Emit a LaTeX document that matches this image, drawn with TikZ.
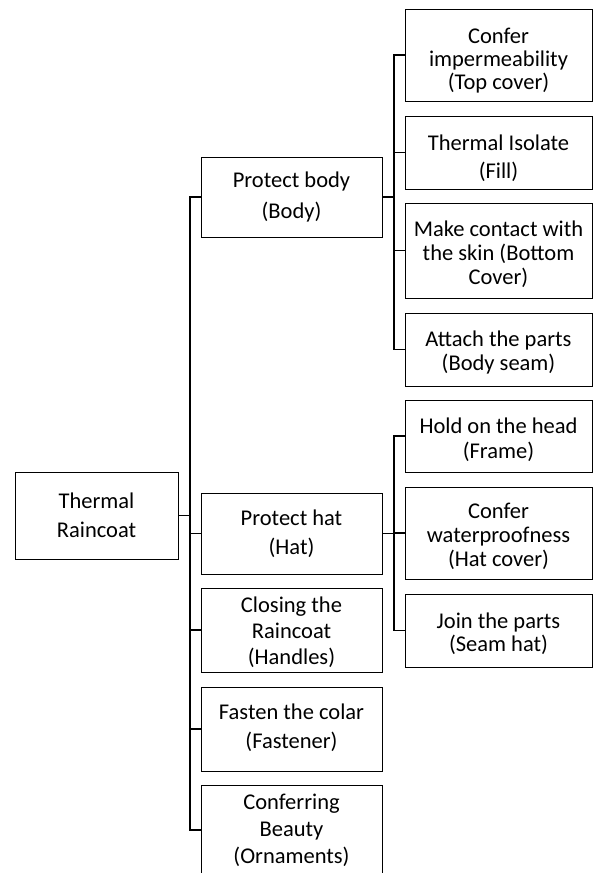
\documentclass[tikz,border=0pt]{standalone}
\usepackage{fontspec}
\setmainfont{Carlito}
\begin{document}
\begin{tikzpicture}[x=1pt,y=-1pt,
  box/.style={draw=black,line width=1pt,inner sep=0pt},
  rootbox/.style={box,minimum width=163pt,minimum height=87pt},
  lonebox/.style={box,minimum width=181pt},
  ltwobox/.style={box,minimum width=187pt},
  txt/.style={inner sep=0pt,align=center,font=\fontsize{22.5}{#1}\selectfont},
  conn/.style={draw=black,line width=1.3pt}]
\useasboundingbox (0,0) rectangle (593,873);
\fill[white] (0,0) rectangle (593,873);
\clip (0,0) rectangle (593,873);
% root
\node[rootbox] (root) at (96.5,515.5) {};
\node[txt=29] (roott) at (root.center) {Thermal\\Raincoat};
% level 1
\node[lonebox,minimum height=80pt] (body) at (291.5,197) {};
\node[txt=31] (bodyt) at (body.center) {Protect body\\(Body)};
\node[lonebox,minimum height=81pt] (hat) at (291.5,533.5) {};
\node[txt=29] (hatt) at (hat.center) {Protect hat\\(Hat)};
\node[lonebox,minimum height=84pt] (closing) at (291.5,630) {};
\node[txt=26] (closingt) at ([yshift=-2pt]closing.center) {Closing the\\Raincoat\\(Handles)};
\node[lonebox,minimum height=84pt] (fasten) at (291.5,729) {};
\node[txt=29] (fastent) at ([yshift=1pt]fasten.center) {Fasten the colar\\(Fastener)};
\node[lonebox,minimum height=90pt] (beauty) at (291.5,830) {};
\node[txt=27] (beautyt) at (beauty.center) {Conferring\\Beauty\\(Ornaments)};
% level 2 body
\node[ltwobox,minimum height=92pt] (b1) at (498.5,55) {};
\node[txt=23] (b1t) at ([yshift=-6pt]b1.center) {Confer\\impermeability\\(Top cover)};
\node[ltwobox,minimum height=73pt] (b2) at (498.5,152.5) {};
\node[txt=28] (b2t) at ([yshift=-6pt]b2.center) {Thermal Isolate\\(Fill)};
\node[ltwobox,minimum height=95pt] (b3) at (498.5,250.5) {};
\node[txt=24] (b3t) at ([yshift=-4pt]b3.center) {Make contact with\\the skin (Bottom\\Cover)};
\node[ltwobox,minimum height=73pt] (b4) at (498.5,349.5) {};
\node[txt=24] (b4t) at ([yshift=-3pt]b4.center) {Attach the parts\\(Body seam)};
% level 2 hat
\node[ltwobox,minimum height=72pt] (h1) at (498.5,436) {};
\node[txt=25] (h1t) at ([yshift=-4pt]h1.center) {Hold on the head\\(Frame)};
\node[ltwobox,minimum height=92pt] (h2) at (498.5,533) {};
\node[txt=24] (h2t) at ([yshift=-3pt]h2.center) {Confer\\waterproofness\\(Hat cover)};
\node[ltwobox,minimum height=73pt] (h3) at (498.5,630.5) {};
\node[txt=23] (h3t) at ([yshift=-3pt]h3.center) {Join the parts\\(Seam hat)};
% trunks
\coordinate (t0) at (190,0);
\coordinate (t1) at (394,0);
\foreach \c in {body,hat,closing,fasten,beauty}
  \draw[conn] (root.east) -- (root.east -| t0) |- (\c.west);
\foreach \c in {b1,b2,b3,b4}
  \draw[conn] (body.east) -- (body.east -| t1) |- (\c.west);
\foreach \c in {h1,h2,h3}
  \draw[conn] (hat.east) -- (hat.east -| t1) |- (\c.west);
\end{tikzpicture}
\end{document}
